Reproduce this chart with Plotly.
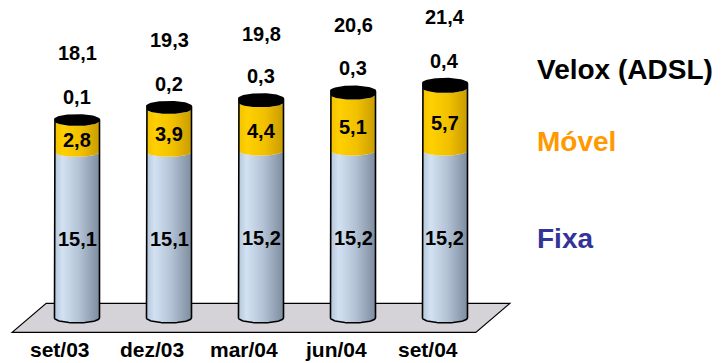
import numpy as np
import plotly.graph_objects as go

# Quarterly subscriber base (millions), stacked by service
categories = ["set/03", "dez/03", "mar/04", "jun/04", "set/04"]
fixa = [15.1, 15.1, 15.2, 15.2, 15.2]
movel = [2.8, 3.9, 4.4, 5.1, 5.7]
velox = [0.1, 0.2, 0.3, 0.3, 0.4]
totals = [18.1, 19.3, 19.8, 20.6, 21.4]
series_names = ["Velox (ADSL)", "Móvel", "Fixa"]

W, H = 722, 363
X_RANGE = [-0.837, 7.011]
Y_RANGE = [-4.1, 28.9]
PX_X = W / (X_RANGE[1] - X_RANGE[0])
PX_Y = H / (Y_RANGE[1] - Y_RANGE[0])

# cylinder geometry (half width / ellipse half height) in data units
A = 22.5 / PX_X
B = 5.0 / PX_Y
T = np.linspace(0, np.pi, 48)

FONT = "Liberation Sans"
BLUE_SCALE = [[0, "#b4c6da"], [0.18, "#d2e2f3"], [0.55, "#b3c3d5"], [1, "#7d8c9e"]]
YELLOW_SCALE = [[0, "#f2c200"], [0.2, "#ffd000"], [0.6, "#f0bf00"], [1, "#c99c00"]]
BLACK_SCALE = [[0, "#000000"], [1, "#000000"]]


def front_arc(c, h, left_to_right=True):
    t = T[::-1] if left_to_right else T
    return c + A * np.cos(t), h - B * np.sin(t)


def back_arc(c, h):
    # right to left across the top
    return c + A * np.cos(T), h + B * np.sin(T)


def fmt(v):
    return f"{v:.1f}".replace(".", ",")


fig = go.Figure()

# floor under the cylinders
n = len(categories)
fl, fr = -0.52, (n - 1) + 0.52
dx, dy = 0.185, 14.5 / PX_Y
floor_path = (f"M {fl - dx},{-dy} L {fr - dx},{-dy} L {fr + dx},{dy} "
              f"L {fl + dx},{dy} Z")
fig.add_shape(type="path", path=floor_path, xref="x", yref="y",
              fillcolor="#d5d2d8", line=dict(color="#000000", width=1.2),
              layer="below")

lab_font = dict(family=FONT, size=20, color="#000000", weight="bold")

for i in range(n):
    segs = [(fixa[i], BLUE_SCALE), (movel[i], YELLOW_SCALE), (velox[i], BLACK_SCALE)]
    base = 0.0
    for k, (val, scale) in enumerate(segs):
        top = base + val
        x1, y1 = front_arc(i, base, True)
        if k == len(segs) - 1:
            x2, y2 = back_arc(i, top)
        else:
            x2, y2 = front_arc(i, top, False)
        xs = np.concatenate([x1, x2, x1[:1]])
        ys = np.concatenate([y1, y2, y1[:1]])
        fig.add_trace(go.Scatter(
            x=xs, y=ys, mode="lines", fill="toself",
            fillgradient=dict(type="horizontal", colorscale=scale),
            line=dict(width=0), hoverinfo="skip", showlegend=False))
        base = top

    # outline: left side, top rim, right side, front of the base
    total_h = base
    bx, by = back_arc(i, total_h)
    fx, fy = front_arc(i, 0.0, False)
    ox = np.concatenate([[i - A, i - A], bx[::-1], [i + A], fx])
    oy = np.concatenate([[0.0, total_h], by[::-1], [0.0], fy])
    fig.add_trace(go.Scatter(x=ox, y=oy, mode="lines",
                             line=dict(color="#000000", width=1.6),
                             hoverinfo="skip", showlegend=False))

    # value labels
    fig.add_annotation(x=i, y=fixa[i] / 2, text=fmt(fixa[i]),
                       showarrow=False, font=lab_font, yshift=-4)
    fig.add_annotation(x=i, y=fixa[i] + movel[i] / 2, text=fmt(movel[i]),
                       showarrow=False, font=lab_font, yshift=-4)
    fig.add_annotation(x=i, y=total_h, text=fmt(velox[i]),
                       showarrow=False, font=lab_font, yshift=23)
    fig.add_annotation(x=i, y=totals[i], text=fmt(totals[i]),
                       showarrow=False, font=lab_font, yshift=66)
    # category label
    fig.add_annotation(x=i - 0.19, y=1 - 349 / H, yref="paper", text=categories[i],
                       showarrow=False, yanchor="middle", borderpad=0,
                       font=dict(family=FONT, size=21, color="#000000", weight="bold"))

# series names on the right
series_colors = ["#000000", "#ff9900", "#333399"]
series_y = [70, 142, 238]
for name, col, py in zip(series_names, series_colors, series_y):
    fig.add_annotation(x=535 / W, xref="paper", xanchor="left",
                       y=1 - py / H, yref="paper", yanchor="middle",
                       text=name, showarrow=False,
                       font=dict(family=FONT, size=28, color=col, weight="bold"))

fig.update_layout(
    width=W, height=H, margin=dict(l=0, r=0, t=0, b=0),
    paper_bgcolor="#ffffff", plot_bgcolor="#ffffff",
    xaxis=dict(range=X_RANGE, visible=False, fixedrange=True),
    yaxis=dict(range=Y_RANGE, visible=False, fixedrange=True),
    showlegend=False,
)

fig.write_html("out.html")
